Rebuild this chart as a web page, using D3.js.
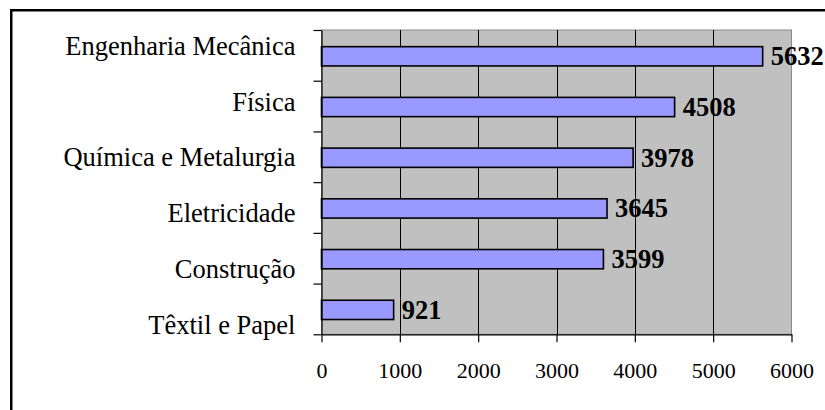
<!DOCTYPE html>
<html>
<head>
<meta charset="utf-8">
<script src="https://cdn.jsdelivr.net/npm/d3@7"></script>
<style>
  html, body { margin: 0; padding: 0; background: #fff; }
  svg { display: block; }
</style>
</head>
<body>
<svg id="chart" width="825" height="410"></svg>
<script>
const categories = ["Engenharia Mecânica", "Física", "Química e Metalurgia", "Eletricidade", "Construção", "Têxtil e Papel"];
const values = [5632, 4508, 3978, 3645, 3599, 921];
const xTicks = [0, 1000, 2000, 3000, 4000, 5000, 6000];

const svg = d3.select("#chart");
const plot = { left: 321.5, right: 791.5, top: 30, bottom: 334.3 };
const serif = "'Liberation Serif', 'Times New Roman', serif";

// outer frame (clipped by image)
svg.append("rect")
  .attr("x", 11.25).attr("y", 10.25)
  .attr("width", 900).attr("height", 500)
  .attr("fill", "#fff").attr("stroke", "#000").attr("stroke-width", 2.5);

const x = d3.scaleLinear().domain([0, 6000]).range([plot.left, plot.right]);
const y = d3.scaleBand().domain(categories).range([plot.top, plot.bottom])
  .paddingInner(0.62).paddingOuter(0.31).align(0.53);
const yEdge = d3.scaleLinear().domain([0, categories.length]).range([plot.top, plot.bottom]);
const yLabel = d3.scalePoint().domain(categories).range([55, 333.5]);

// plot background
svg.append("rect")
  .attr("x", plot.left).attr("y", plot.top)
  .attr("width", plot.right - plot.left).attr("height", plot.bottom - plot.top)
  .attr("fill", "#C0C0C0").attr("stroke", "#8a8a8a").attr("stroke-width", 1);

// vertical gridlines
svg.append("g").selectAll("line")
  .data(xTicks.filter(d => d > 0 && d < 6000))
  .join("line")
  .attr("x1", d => Math.round(x(d)) + 0.5).attr("x2", d => Math.round(x(d)) + 0.5)
  .attr("y1", plot.top).attr("y2", plot.bottom)
  .attr("stroke", "#000").attr("stroke-width", 1);

// bars
svg.append("g").selectAll("rect")
  .data(categories)
  .join("rect")
  .attr("x", x(0))
  .attr("y", d => y(d))
  .attr("width", (d, i) => x(values[i]) - x(0))
  .attr("height", y.bandwidth())
  .attr("fill", "#9999FF")
  .attr("stroke", "#000")
  .attr("stroke-width", 1.6);

// value labels
svg.append("g").selectAll("text")
  .data(categories)
  .join("text")
  .attr("x", (d, i) => x(values[i]) + 8)
  .attr("y", d => y(d) + y.bandwidth() / 2)
  .attr("dy", "0.34em")
  .attr("font-family", serif)
  .attr("font-weight", "bold")
  .attr("font-size", "26.5px")
  .attr("fill", "#000")
  .text((d, i) => values[i]);

// y axis (ticks at band edges)
const yAxis = svg.append("g")
  .attr("transform", `translate(${plot.left},0)`)
  .call(d3.axisLeft(yEdge).tickValues(d3.range(categories.length + 1)).tickSize(8).tickSizeOuter(0).tickFormat(""));
yAxis.selectAll("path, line").attr("stroke", "#000").attr("stroke-width", 1.2);

// category labels
svg.append("g").selectAll("text")
  .data(categories)
  .join("text")
  .attr("x", 295.5)
  .attr("y", d => yLabel(d))
  .attr("text-anchor", "end")
  .attr("font-family", serif)
  .attr("font-size", "26.5px")
  .attr("fill", "#000")
  .text(d => d);

// x axis
const xAxis = svg.append("g")
  .attr("transform", `translate(0,${plot.bottom})`)
  .call(d3.axisBottom(x).tickValues(xTicks).tickSize(8).tickSizeOuter(0).tickPadding(20).tickFormat(d3.format("d")));
xAxis.selectAll("path, line").attr("stroke", "#000").attr("stroke-width", 1.2);
xAxis.selectAll("text")
  .attr("font-family", serif)
  .attr("font-size", "22px")
  .attr("fill", "#000");
</script>
</body>
</html>
